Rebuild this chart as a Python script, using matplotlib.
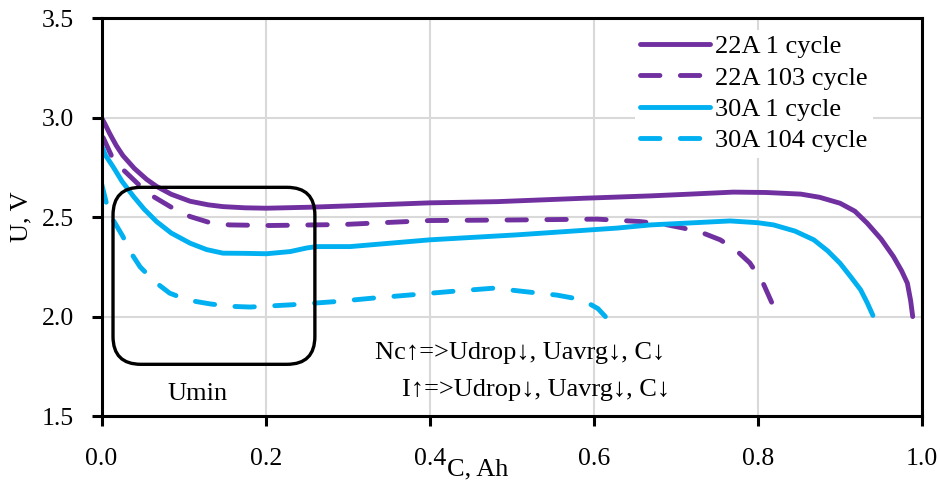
import matplotlib
matplotlib.use("Agg")
import matplotlib.pyplot as plt
from matplotlib.patches import FancyBboxPatch

plt.rcParams['font.family'] = ['Liberation Serif', 'DejaVu Serif']

PURPLE = '#7030A0'
BLUE = '#00B0F0'

# 22A 1 cycle
c22_1 = [0.0, 0.004, 0.01, 0.018, 0.026, 0.04, 0.055, 0.067, 0.085, 0.108, 0.13, 0.148,
         0.175, 0.201, 0.254, 0.303, 0.4, 0.482, 0.587, 0.669, 0.718, 0.77, 0.81, 0.852,
         0.875, 0.9, 0.918, 0.933, 0.95, 0.965, 0.975, 0.982, 0.986, 0.9885]
u22_1 = [3.0, 2.97, 2.92, 2.86, 2.81, 2.745, 2.69, 2.655, 2.615, 2.58, 2.562, 2.553,
         2.547, 2.545, 2.55, 2.557, 2.572, 2.578, 2.595, 2.607, 2.616, 2.626, 2.624, 2.616,
         2.6, 2.57, 2.53, 2.47, 2.39, 2.302, 2.23, 2.168, 2.08, 2.0]

# 22A 103 cycle
c22_103 = [0.002, 0.012, 0.026, 0.045, 0.063, 0.085, 0.108, 0.13, 0.156, 0.205, 0.294,
           0.4, 0.506, 0.604, 0.656, 0.685, 0.709, 0.733, 0.754, 0.773, 0.79, 0.806,
           0.819, 0.822]
u22_103 = [2.9, 2.81, 2.74, 2.665, 2.604, 2.55, 2.503, 2.475, 2.461, 2.458, 2.463,
           2.483, 2.486, 2.49, 2.478, 2.465, 2.445, 2.42, 2.386, 2.335, 2.27, 2.17,
           2.05, 2.02]

# 30A 1 cycle
c30_1 = [0.0, 0.005, 0.014, 0.025, 0.039, 0.052, 0.067, 0.085, 0.108, 0.128, 0.148,
         0.175, 0.201, 0.23, 0.25, 0.262, 0.303, 0.4, 0.506, 0.628, 0.669, 0.766, 0.8,
         0.819, 0.845, 0.868, 0.885, 0.9, 0.913, 0.925, 0.933, 0.94]
u30_1 = [2.86, 2.81, 2.754, 2.68, 2.604, 2.54, 2.478, 2.42, 2.369, 2.337, 2.319,
         2.318, 2.316, 2.327, 2.345, 2.352, 2.352, 2.386, 2.411, 2.445, 2.461, 2.481, 2.472,
         2.461, 2.43, 2.386, 2.33, 2.268, 2.2, 2.135, 2.07, 2.006]

# 30A 104 cycle
c30_104 = [0.0, 0.006, 0.015, 0.026, 0.036, 0.047, 0.065, 0.083, 0.105, 0.132, 0.155,
           0.181, 0.23, 0.287, 0.331, 0.425, 0.478, 0.526, 0.555, 0.575, 0.593, 0.605, 0.614]
u30_104 = [2.67, 2.57, 2.48, 2.403, 2.32, 2.25, 2.175, 2.118, 2.083, 2.064, 2.052,
           2.048, 2.059, 2.076, 2.093, 2.126, 2.143, 2.121, 2.108, 2.093, 2.068, 2.04, 2.0]

xticks = [0.0, 0.2, 0.4, 0.6, 0.8, 1.0]
yticks = [1.5, 2.0, 2.5, 3.0, 3.5]

fig = plt.figure(figsize=(9.4, 4.88), dpi=100)
ax = fig.add_axes([0.108, 0.1475, 0.873, 0.815])

dash = (0, (4, 4.2))
ax.plot(c22_1, u22_1, color=PURPLE, lw=3.5, solid_capstyle='round', label='22A 1 cycle')
ax.plot(c22_103, u22_103, color=PURPLE, lw=3.5, ls=dash, dash_capstyle='round',
        label='22A 103 cycle')
ax.plot(c30_1, u30_1, color=BLUE, lw=3.5, solid_capstyle='round', label='30A 1 cycle')
ax.plot(c30_104, u30_104, color=BLUE, lw=3.5, ls=dash, dash_capstyle='round',
        label='30A 104 cycle')

# Umin box
box = FancyBboxPatch((0.014, 1.76), 0.246, 0.89,
                     boxstyle='round,pad=0,rounding_size=0.034',
                     mutation_aspect=4.12, fc='none', ec='black', lw=2.4, zorder=5)
ax.add_patch(box)
ax.text(0.1165, 1.613, 'Umin', ha='center', va='center', fontsize=19)

ax.text(0.51, 1.818, 'Nc\u2191=>Udrop\u2193, Uavrg\u2193, C\u2193', ha='center', va='center',
        fontsize=19)
ax.text(0.53, 1.632, 'I\u2191=>Udrop\u2193, Uavrg\u2193, C\u2193', ha='center', va='center',
        fontsize=19)

ax.set_xlim(0, 1.0)
ax.set_ylim(1.5, 3.5)
ax.set_xticks(xticks)
ax.set_yticks(yticks)
ax.set_xticklabels([f'{v:.1f}' for v in xticks])
ax.set_yticklabels([f'{v:.1f}' for v in yticks])
ax.tick_params(labelsize=18.5, width=2.2, length=7, direction='out')
ax.tick_params(axis='x', pad=16)
ax.tick_params(axis='y', pad=13)
ax.grid(True, color='#d9d9d9', lw=1.5)
ax.set_axisbelow(True)
for s in ax.spines.values():
    s.set_linewidth(2.2)

leg = ax.legend(loc='upper left', bbox_to_anchor=(0.634, 1.005), fontsize=19, frameon=True,
                framealpha=1, edgecolor='none', fancybox=False, handlelength=2.65,
                handletextpad=0.2, labelspacing=0.3, borderpad=0.2)

fig.text(0.0223, 0.555, 'U, V', rotation=90, ha='center', va='center', fontsize=19)
fig.text(0.5085, 0.037, 'C, Ah', ha='center', va='center', fontsize=19)

fig.savefig('out.png', dpi=100)
